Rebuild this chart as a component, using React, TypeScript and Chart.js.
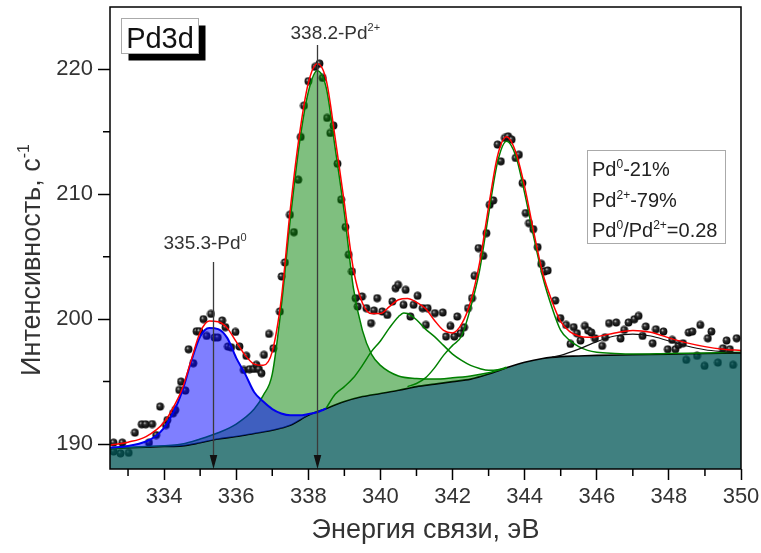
import React, { useEffect, useRef } from 'react';
import { Chart, registerables } from 'chart.js';

Chart.register(...registerables);

const FONT = '"Liberation Sans", Arial, Helvetica, sans-serif';
const TEXT = '#333333';

// ---------- axes ----------
const xMin = 332.5;
const xMax = 350;
const yMin = 188;
const yMax = 225;
const xMajorStep = 2;
const yMajorStep = 10;
const xMinorTicks = [333, 335, 337, 339, 341, 343, 345, 347, 349];
const yMinorTicks = [195, 205, 215];
const xTitle = 'Энергия связи, эВ';
const yTitle = [{ t: 'Интенсивность, с' }, { t: '-1', sup: true }];

// ---------- fitted curves [energy, intensity] ----------
const background: [number, number][] = [
  [332.5, 189.65], [333, 189.7], [333.5, 189.75], [334, 189.8], [334.5, 189.85], [335, 190.1],
  [335.5, 190.4], [336, 190.6], [336.5, 190.85], [337, 191.1], [337.5, 191.5], [338, 192.3],
  [338.5, 192.85], [339, 193.4], [339.5, 193.8], [340, 194.05], [340.5, 194.3], [341, 194.6],
  [341.5, 194.8], [342, 195.0], [342.5, 195.2], [343, 195.6], [343.5, 196.1], [344, 196.55],
  [344.5, 196.85], [345, 197.0], [345.5, 197.05], [346, 197.1], [347, 197.15], [348, 197.2],
  [349, 197.25], [350, 197.3],
];

const pd0Component: [number, number][] = [
  [332.5, 189.7], [333, 189.85], [333.5, 190.2], [333.75, 190.6], [334, 191.3], [334.25, 192.5],
  [334.5, 194.2], [334.75, 196.6], [335, 198.6], [335.25, 199.3], [335.5, 199.2], [335.75, 198.5],
  [336, 196.9], [336.25, 195.6], [336.5, 194.15], [336.75, 193.4], [337, 192.8], [337.25, 192.45],
  [337.5, 192.3], [337.75, 192.3], [338, 192.4], [338.25, 192.55], [338.5, 192.85],
];

const pd2Component: [number, number][] = [
  [332.5, 189.65], [333.5, 189.8], [334.5, 190.0], [335, 190.4], [335.5, 190.9], [336, 191.6],
  [336.5, 192.8], [336.75, 193.9], [337, 195.6], [337.25, 201.0], [337.5, 208.0], [337.75, 214.0],
  [338, 218.2], [338.25, 219.9], [338.5, 218.5], [338.75, 213.6], [339, 208.5], [339.25, 202.5],
  [339.5, 199.1], [339.75, 197.2], [340, 196.3], [340.5, 195.45], [341, 195.25], [341.5, 195.2],
  [342, 195.3], [342.5, 195.45], [343, 195.7], [343.5, 196.1],
];

const pd0Doublet: [number, number][] = [
  [338.5, 192.9], [338.75, 194.0], [339, 194.6], [339.25, 195.3], [339.5, 196.3], [339.75, 197.4],
  [340, 198.25], [340.25, 199.3], [340.5, 200.2], [340.65, 200.5], [340.75, 200.45], [341, 199.95],
  [341.25, 199.2], [341.5, 198.6], [341.75, 197.9], [342, 197.2], [342.25, 196.7], [342.5, 196.3],
  [342.75, 196.05], [343, 195.9], [343.25, 195.95], [343.5, 196.15],
];

const pd2Doublet: [number, number][] = [
  [340.75, 194.6], [341, 194.85], [341.25, 195.3], [341.5, 196.1], [341.75, 197.1], [342, 197.9],
  [342.25, 198.65], [342.5, 200.9], [342.75, 203.9], [343, 208.4], [343.25, 212.6], [343.5, 214.25],
  [343.75, 213.1], [344, 210.1], [344.25, 206.6], [344.5, 203.4], [344.75, 201.0], [345, 199.1],
  [345.25, 198.3], [345.5, 197.8], [345.75, 197.5], [346, 197.35], [346.5, 197.25], [347, 197.2],
  [348, 197.25], [349, 197.3], [350, 197.35],
];

const satellite: [number, number][] = [
  [344.75, 196.95], [345, 197.1], [345.5, 197.6], [346, 198.2], [346.5, 198.65], [347, 198.8],
  [347.5, 198.65], [348, 198.25], [348.5, 197.85], [349, 197.55], [349.5, 197.4], [350, 197.3],
];

const envelope: [number, number][] = [
  [332.5, 189.9], [333, 190.15], [333.5, 190.6], [334, 191.75], [334.25, 192.9], [334.5, 194.4],
  [334.75, 196.7], [335, 198.95], [335.25, 199.85], [335.5, 199.8], [335.75, 199.3], [336, 198.2],
  [336.25, 197.1], [336.5, 196.4], [336.75, 196.3], [337, 197.4], [337.25, 201.6], [337.5, 208.8],
  [337.75, 214.7], [338, 218.9], [338.25, 220.45], [338.5, 219.1], [338.75, 214.4], [339, 209.3],
  [339.25, 204.0], [339.5, 201.3], [339.75, 200.45], [340, 200.45], [340.25, 201.0], [340.5, 201.55],
  [340.75, 201.65], [341, 201.35], [341.25, 200.85], [341.5, 199.9], [341.75, 199.1], [342, 198.9],
  [342.25, 199.6], [342.5, 201.4], [342.75, 204.5], [343, 209.0], [343.25, 213.1], [343.5, 214.6],
  [343.75, 213.4], [344, 210.6], [344.25, 207.0], [344.5, 203.7], [344.75, 201.5], [345, 199.8],
  [345.25, 199.0], [345.5, 198.65], [345.75, 198.55], [346, 198.6], [346.5, 198.9], [347, 199.1],
  [347.5, 198.95], [348, 198.5], [348.5, 198.1], [349, 197.8], [349.5, 197.6], [350, 197.5],
];

// ---------- measured spectrum ----------
const measured: [number, number][] = [
  [332.6, 189.4], [332.79, 189.25], [333.02, 189.3],
  [332.6, 190.11], [332.84, 190.11], [333.19, 190.91], [333.38, 191.58], [333.49, 191.58], [333.58, 190.11],
  [333.67, 191.6], [333.78, 190.72], [333.89, 193.0], [334.05, 191.52], [334.09, 191.92], [334.25, 192.46],
  [334.31, 192.73], [334.42, 194.33], [334.47, 195.0], [334.59, 194.28], [334.68, 197.59], [334.81, 196.47],
  [334.9, 199.03], [334.98, 199.03], [335.09, 200.0], [335.18, 198.66], [335.3, 200.42], [335.4, 198.53],
  [335.49, 198.53], [335.61, 199.89], [335.7, 199.36], [335.77, 197.81], [335.86, 197.75], [335.98, 198.98],
  [336.09, 197.81], [336.21, 195.93], [336.28, 197.06], [336.37, 195.99], [336.49, 196.01], [336.56, 196.34],
  [336.63, 195.99], [336.7, 195.67], [336.77, 197.14], [336.91, 198.82], [337.03, 197.67], [337.21, 200.61],
  [337.26, 203.42], [337.35, 204.54], [337.49, 208.36], [337.6, 206.97], [337.72, 211.17], [337.79, 214.59],
  [337.88, 217.1], [338.0, 219.06], [338.19, 220.2], [338.31, 220.47], [338.4, 219.32], [338.52, 216.12],
  [338.61, 214.91], [338.7, 215.5], [338.81, 212.45], [338.91, 209.57], [339.03, 207.38], [339.12, 205.16],
  [339.21, 203.82], [339.31, 201.68], [339.37, 201.01], [339.49, 201.81], [339.61, 200.88], [339.74, 199.68],
  [339.82, 200.69], [339.91, 201.68], [340.05, 200.61], [340.19, 200.34], [340.33, 201.41], [340.42, 202.48],
  [340.49, 202.75], [340.64, 201.15], [340.7, 202.35], [340.83, 200.21], [340.92, 201.15], [341.03, 201.87],
  [341.17, 200.88], [341.26, 199.54], [341.31, 200.88], [341.51, 200.48],
  [341.73, 200.53], [341.82, 198.61], [341.94, 199.46], [342.05, 198.61], [342.13, 200.21], [342.22, 198.87],
  [342.32, 199.35], [342.43, 200.88], [342.54, 201.68], [342.61, 203.47], [342.72, 205.69], [342.85, 205.07],
  [342.94, 206.89], [343.03, 209.16], [343.13, 209.51], [343.25, 213.98], [343.34, 212.64], [343.45, 214.51],
  [343.54, 214.64], [343.64, 214.38], [343.75, 212.91], [343.84, 213.17], [343.94, 210.9], [344.03, 208.5],
  [344.12, 207.69], [344.24, 207.21], [344.36, 205.77], [344.46, 204.43], [344.55, 203.82], [344.64, 203.9],
  [344.85, 201.49], [344.99, 200.08],
  [345.15, 199.54], [345.27, 198.02], [345.36, 199.36], [345.45, 198.87], [345.55, 198.29], [345.67, 199.46],
  [345.76, 199.09], [345.85, 198.93], [345.95, 198.47], [346.15, 197.86], [346.23, 198.55], [346.34, 199.68],
  [346.54, 199.73], [346.66, 198.45], [346.76, 199.14], [346.88, 199.73], [347.04, 199.99], [347.16, 200.26],
  [347.27, 198.66], [347.36, 199.41], [347.55, 198.07], [347.64, 199.19], [347.85, 199.01], [347.97, 197.59],
  [348.09, 198.34], [348.18, 197.59], [348.27, 197.94], [348.39, 198.07], [348.48, 196.74], [348.55, 198.93],
  [348.65, 199.01], [348.78, 197.06], [348.87, 199.54], [348.99, 196.26], [349.08, 198.47], [349.18, 199.01],
  [349.36, 196.52], [349.5, 197.67], [349.6, 198.29], [349.69, 197.59], [349.78, 196.34], [349.88, 198.47],
];

// ---------- annotations ----------
const peakEnergies = [335.35, 338.25];
const peakLabels = [
  [{ t: '335.3-Pd' }, { t: '0', sup: true }],
  [{ t: '338.2-Pd' }, { t: '2+', sup: true }],
];
const sampleName = 'Pd3d';
const quantLines = [
  [{ t: 'Pd' }, { t: '0', sup: true }, { t: '-21%' }],
  [{ t: 'Pd' }, { t: '2+', sup: true }, { t: '-79%' }],
  [{ t: 'Pd' }, { t: '0', sup: true }, { t: '/Pd' }, { t: '2+', sup: true }, { t: '=0.28' }],
];

type Part = { t: string; sup?: boolean };

function richWidth(ctx: CanvasRenderingContext2D, parts: Part[], size: number) {
  let w = 0;
  for (const p of parts) {
    ctx.font = `${p.sup ? Math.round(size * 0.6) : size}px ${FONT}`;
    w += ctx.measureText(p.t).width;
  }
  return w;
}

function drawRich(ctx: CanvasRenderingContext2D, parts: Part[], x: number, y: number, size: number) {
  let cx = x;
  ctx.textBaseline = 'alphabetic';
  ctx.textAlign = 'left';
  for (const p of parts) {
    ctx.font = `${p.sup ? Math.round(size * 0.6) : size}px ${FONT}`;
    ctx.fillText(p.t, cx, p.sup ? y - size * 0.4 : y);
    cx += ctx.measureText(p.t).width;
  }
}

function makeSphere() {
  const c = document.createElement('canvas');
  c.width = 9;
  c.height = 9;
  const g = c.getContext('2d')!;
  const grd = g.createRadialGradient(3.3, 3.1, 0.2, 4.5, 4.5, 4.3);
  grd.addColorStop(0, '#c8c8c8');
  grd.addColorStop(0.3, '#303030');
  grd.addColorStop(1, '#000000');
  g.fillStyle = grd;
  g.beginPath();
  g.arc(4.5, 4.5, 3.9, 0, Math.PI * 2);
  g.fill();
  return c;
}

const decorPlugin = {
  id: 'decor',
  afterDatasetsDraw(chart: any) {
    const { ctx, chartArea: a, scales } = chart;
    const xs = scales.x;
    ctx.save();
    const starts = [262, 45];
    const labelOffsets = [-50, -27];
    const labelBase = [249, 39];
    peakEnergies.forEach((e, i) => {
      const px = Math.round(xs.getPixelForValue(e)) + 0.5;
      ctx.strokeStyle = '#3a3a3a';
      ctx.lineWidth = 1.3;
      ctx.beginPath();
      ctx.moveTo(px, starts[i]);
      ctx.lineTo(px, a.bottom - 10);
      ctx.stroke();
      ctx.fillStyle = '#111';
      ctx.beginPath();
      ctx.moveTo(px - 3.8, a.bottom - 14);
      ctx.lineTo(px + 3.8, a.bottom - 14);
      ctx.lineTo(px, a.bottom);
      ctx.closePath();
      ctx.fill();
      ctx.fillStyle = TEXT;
      drawRich(ctx, peakLabels[i], px + labelOffsets[i], labelBase[i], 19);
    });
    ctx.restore();
  },
  afterDraw(chart: any) {
    const { ctx, chartArea: a, scales } = chart;
    const xs = scales.x;
    const ys = scales.y;
    ctx.save();
    // frame
    ctx.strokeStyle = '#000';
    ctx.lineWidth = 1.5;
    ctx.strokeRect(a.left, a.top, a.right - a.left, a.bottom - a.top);
    // minor ticks
    ctx.beginPath();
    xMinorTicks.forEach((v) => {
      const px = xs.getPixelForValue(v);
      ctx.moveTo(px, a.bottom);
      ctx.lineTo(px, a.bottom + 7);
    });
    yMinorTicks.forEach((v) => {
      const py = ys.getPixelForValue(v);
      ctx.moveTo(a.left, py);
      ctx.lineTo(a.left - 7, py);
    });
    ctx.stroke();

    // sample name box with shadow
    const bx = a.left + 11.5;
    const by = a.top + 11.5;
    const bw = 77;
    const bh = 35;
    ctx.fillStyle = '#000';
    ctx.fillRect(bx + 7, by + 7, bw, bh);
    ctx.fillStyle = '#fff';
    ctx.fillRect(bx, by, bw, bh);
    ctx.strokeStyle = '#aaaaaa';
    ctx.lineWidth = 1;
    ctx.strokeRect(bx, by, bw, bh);
    ctx.fillStyle = '#111';
    ctx.font = `29px ${FONT}`;
    ctx.textAlign = 'center';
    ctx.textBaseline = 'alphabetic';
    ctx.fillText(sampleName, bx + bw / 2, by + 29);

    // quantification box
    const qx = a.right - 153.5;
    const qy = a.top + 143.5;
    ctx.fillStyle = '#fff';
    ctx.fillRect(qx, qy, 138, 93);
    ctx.strokeStyle = '#aaaaaa';
    ctx.strokeRect(qx, qy, 138, 93);
    ctx.fillStyle = '#222';
    quantLines.forEach((line, i) => {
      drawRich(ctx, line, qx + 4.5, qy + 25.5 + i * 30.5, 20);
    });

    // axis titles
    ctx.fillStyle = TEXT;
    ctx.font = `27px ${FONT}`;
    ctx.textAlign = 'center';
    ctx.textBaseline = 'alphabetic';
    ctx.fillText(xTitle, (a.left + a.right) / 2, 538);

    const tw = richWidth(ctx, yTitle, 27);
    ctx.save();
    ctx.translate(40, 260);
    ctx.rotate(-Math.PI / 2);
    drawRich(ctx, yTitle, -tw / 2, 0, 27);
    ctx.restore();
    ctx.restore();
  },
};

export default function App() {
  const ref = useRef<HTMLCanvasElement>(null);
  useEffect(() => {
    const canvas = ref.current!;
    const sphere = makeSphere();
    const toXY = (arr: [number, number][]) => arr.map(([x, y]) => ({ x, y }));
    const line = (label: string, arr: [number, number][], color: string, width: number, extra: any = {}) => ({
      label,
      data: toXY(arr),
      borderColor: color,
      borderWidth: width,
      pointRadius: 0,
      pointHoverRadius: 0,
      cubicInterpolationMode: 'monotone',
      fill: false,
      ...extra,
    });
    const tickFont = { family: FONT, size: 22 };
    const chart = new Chart(canvas, {
      type: 'line',
      data: {
        datasets: [
          line('Огибающая', envelope, '#ff0000', 1.5),
          line('Сателлит', satellite, '#111111', 1.2),
          line('Pd2+ 3d3/2', pd2Doublet, '#008000', 1.5),
          line('Pd0 3d3/2', pd0Doublet, '#008000', 1.5),
          line('Pd0', pd0Component, '#0000ee', 2, { fill: 6, backgroundColor: 'rgba(0,0,255,0.5)' }),
          line('Pd2+', pd2Component, '#008000', 1.5, { fill: 6, backgroundColor: 'rgba(0,128,0,0.5)' }),
          line('Фон', background, '#000000', 1.6, { fill: 'start', backgroundColor: 'rgba(0,85,85,0.75)' }),
          {
            label: 'Эксперимент',
            data: toXY(measured),
            showLine: false,
            pointStyle: sphere,
            pointRadius: 4,
            pointHoverRadius: 4,
            borderWidth: 0,
          },
        ] as any,
      },
      options: {
        responsive: false,
        animation: false,
        devicePixelRatio: 1,
        layout: { padding: { left: 0, top: 7, right: 20, bottom: 0 } },
        plugins: {
          legend: { display: false },
          tooltip: { enabled: false },
        },
        events: [],
        scales: {
          x: {
            type: 'linear',
            min: xMin,
            max: xMax,
            afterFit: (s: any) => {
              s.height = 84;
              s.paddingLeft = 0;
              s.paddingRight = 0;
              s.paddingTop = 0;
              s.paddingBottom = 0;
            },
            border: { display: false },
            grid: { drawOnChartArea: false, drawTicks: true, tickLength: 11, tickWidth: 1.5, tickColor: '#000' },
            ticks: {
              stepSize: xMajorStep,
              includeBounds: false,
              autoSkip: false,
              maxRotation: 0,
              font: tickFont,
              color: TEXT,
              padding: 4,
            },
          },
          y: {
            type: 'linear',
            min: yMin,
            max: yMax,
            afterFit: (s: any) => {
              s.width = 110;
              s.paddingLeft = 0;
              s.paddingRight = 0;
              s.paddingTop = 0;
              s.paddingBottom = 0;
            },
            border: { display: false },
            grid: { drawOnChartArea: false, drawTicks: true, tickLength: 12, tickWidth: 1.5, tickColor: '#000' },
            ticks: {
              stepSize: yMajorStep,
              includeBounds: false,
              font: tickFont,
              color: TEXT,
              padding: 5,
            },
          },
        },
      } as any,
      plugins: [decorPlugin],
    });
    return () => chart.destroy();
  }, []);
  return (
    <div style={{ position: 'fixed', left: 0, top: 0, width: 761, height: 553, background: '#fff' }}>
      <canvas ref={ref} width={761} height={553} style={{ display: 'block' }} />
    </div>
  );
}
